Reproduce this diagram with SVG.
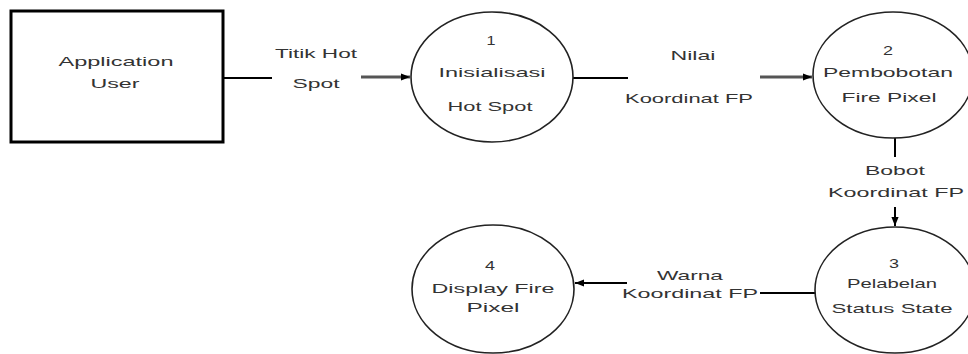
<svg xmlns="http://www.w3.org/2000/svg" width="968" height="354" viewBox="0 0 968 354">
<style>
  text { font-family: "Liberation Sans", Arial, sans-serif; font-size: 13px; fill: #333; text-anchor: middle; }
  .proc { fill: #ffffff; stroke: #222; stroke-width: 1.6; }
  .ent { fill: #ffffff; stroke: #000; stroke-width: 3; }
  .ln { stroke: #000; stroke-width: 2; fill: none; }
  .lg { stroke: #555; stroke-width: 3; fill: none; }
</style>
<defs>
  <marker id="ah" viewBox="0 0 10 10" refX="10" refY="5" markerWidth="9" markerHeight="9" markerUnits="userSpaceOnUse" orient="auto">
    <path d="M0,1 L10,5 L0,9 Z" fill="#000"/>
  </marker>
</defs>
<rect width="968" height="354" fill="#ffffff"/>

<g id="connectors">
  <line class="ln" x1="223" y1="78" x2="272" y2="78"/>
  <line class="lg" x1="361" y1="77" x2="410" y2="77" marker-end="url(#ah)"/>
  <line class="ln" x1="573" y1="78" x2="628" y2="78"/>
  <line class="lg" x1="760" y1="77" x2="812" y2="77" marker-end="url(#ah)"/>
  <line class="ln" x1="895" y1="138" x2="895" y2="157"/>
  <line class="ln" x1="895" y1="207" x2="895" y2="226" marker-end="url(#ah)"/>
  <line class="ln" x1="816" y1="293" x2="760" y2="293"/>
  <line class="ln" x1="627" y1="283" x2="575" y2="283" marker-end="url(#ah)"/>
  <g id="labels">
    <text x="316" y="58" textLength="82" lengthAdjust="spacingAndGlyphs">Titik Hot</text>
    <text x="316" y="88" textLength="47" lengthAdjust="spacingAndGlyphs">Spot</text>
    <text x="693" y="60" textLength="45" lengthAdjust="spacingAndGlyphs">Nilai</text>
    <text x="689" y="103" textLength="128" lengthAdjust="spacingAndGlyphs">Koordinat FP</text>
    <text x="895" y="175" textLength="60" lengthAdjust="spacingAndGlyphs">Bobot</text>
    <text x="896" y="197" textLength="136" lengthAdjust="spacingAndGlyphs">Koordinat FP</text>
    <text x="690" y="280" textLength="66" lengthAdjust="spacingAndGlyphs">Warna</text>
    <text x="690" y="298" textLength="136" lengthAdjust="spacingAndGlyphs">Koordinat FP</text>
  </g>
</g>

<g id="entity-user">
  <rect class="ent" x="11" y="11" width="212" height="131"/>
  <text x="116" y="66" textLength="115" lengthAdjust="spacingAndGlyphs">Application</text>
  <text x="115" y="88" textLength="49" lengthAdjust="spacingAndGlyphs">User</text>
</g>

<g id="proc-1">
  <ellipse class="proc" cx="492" cy="77" rx="81" ry="65"/>
  <text x="491" y="45" textLength="9" lengthAdjust="spacingAndGlyphs">1</text>
  <text x="492" y="77" textLength="107" lengthAdjust="spacingAndGlyphs">Inisialisasi</text>
  <text x="490" y="111" textLength="85" lengthAdjust="spacingAndGlyphs">Hot Spot</text>
</g>

<g id="proc-2">
  <ellipse class="proc" cx="893" cy="75" rx="80" ry="63"/>
  <text x="888" y="55" textLength="10" lengthAdjust="spacingAndGlyphs">2</text>
  <text x="888" y="77" textLength="130" lengthAdjust="spacingAndGlyphs">Pembobotan</text>
  <text x="889" y="102" textLength="95" lengthAdjust="spacingAndGlyphs">Fire Pixel</text>
</g>

<g id="proc-3">
  <ellipse class="proc" cx="895" cy="290" rx="80" ry="63"/>
  <text x="894" y="268" textLength="10" lengthAdjust="spacingAndGlyphs">3</text>
  <text x="892" y="288" textLength="90" lengthAdjust="spacingAndGlyphs">Pelabelan</text>
  <text x="892" y="313" textLength="121" lengthAdjust="spacingAndGlyphs">Status State</text>
</g>

<g id="proc-4">
  <ellipse class="proc" cx="493" cy="289" rx="81" ry="64"/>
  <text x="490" y="270" textLength="10" lengthAdjust="spacingAndGlyphs">4</text>
  <text x="493" y="293" textLength="123" lengthAdjust="spacingAndGlyphs">Display Fire</text>
  <text x="493" y="312" textLength="53" lengthAdjust="spacingAndGlyphs">Pixel</text>
</g>
</svg>
